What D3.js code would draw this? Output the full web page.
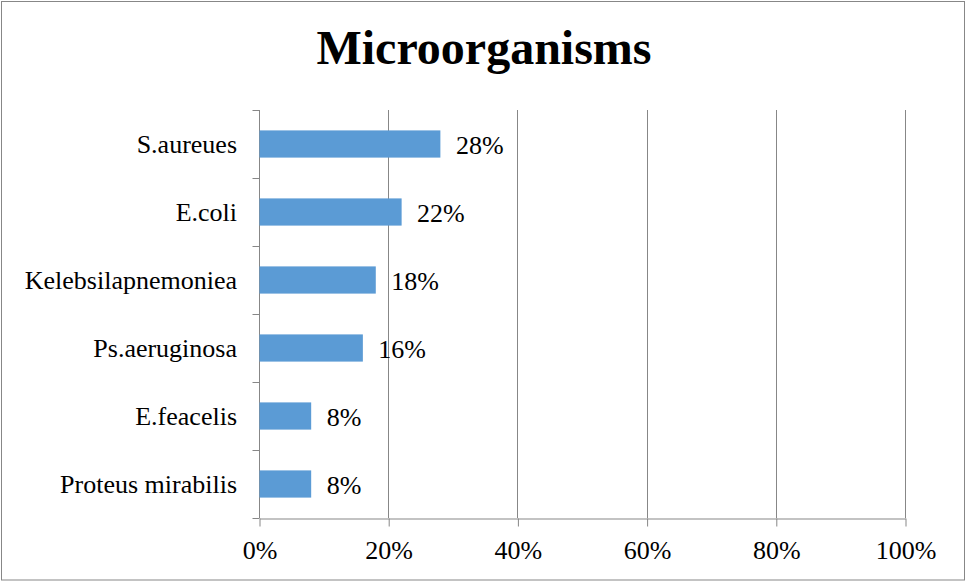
<!DOCTYPE html>
<html>
<head>
<meta charset="utf-8">
<script src="https://cdn.jsdelivr.net/npm/d3@7"></script>
<style>
  html, body { margin: 0; padding: 0; background: #fff; }
  svg { display: block; }
</style>
</head>
<body>
<svg id="chart" width="967" height="583"></svg>
<script>
// Organisms, top to bottom, with their share of isolates (%)
const organisms = ["S.aureues", "E.coli", "Kelebsilapnemoniea", "Ps.aeruginosa", "E.feacelis", "Proteus mirabilis"];
const shares = [28, 22, 18, 16, 8, 8];
const xTicks = [0, 20, 40, 60, 80, 100];

const svg = d3.select("#chart");
const W = 967, H = 583;
const plot = { left: 259, right: 905, top: 110, bottom: 518 };
const serif = "'Liberation Serif', 'Times New Roman', serif";
const gridColor = "#878787";
const labelSize = 26;

// Outer chart border
svg.append("rect")
  .attr("x", 1.5).attr("y", 1.5)
  .attr("width", W - 4).attr("height", H - 4.5)
  .attr("fill", "#fff")
  .attr("stroke", gridColor).attr("stroke-width", 1);

// Title
svg.append("text")
  .attr("x", 484).attr("y", 64)
  .attr("text-anchor", "middle")
  .attr("font-family", serif)
  .attr("font-weight", "bold")
  .attr("font-size", 48)
  .text("Microorganisms");

const x = d3.scaleLinear().domain([0, 100]).range([plot.left, plot.right]);
const y = d3.scaleBand().domain(organisms).range([plot.top, plot.bottom])
  .paddingInner(0.6).paddingOuter(0.3);

// Vertical gridlines
svg.append("g")
  .selectAll("line")
  .data(xTicks.filter(t => t > 0))
  .join("line")
  .attr("x1", d => Math.round(x(d)) + 0.5).attr("x2", d => Math.round(x(d)) + 0.5)
  .attr("y1", plot.top).attr("y2", plot.bottom)
  .attr("stroke", gridColor).attr("stroke-width", 1);

// Bottom axis
const xAxis = svg.append("g")
  .attr("transform", `translate(0.5,${plot.bottom + 0.5})`)
  .call(d3.axisBottom(x).tickValues(xTicks).tickFormat(d => d + "%").tickSize(8).tickSizeOuter(0));
xAxis.select(".domain").attr("stroke", gridColor);
xAxis.selectAll(".tick line").attr("stroke", gridColor);
xAxis.selectAll(".tick text")
  .attr("font-family", serif).attr("font-size", labelSize).attr("fill", "#000")
  .attr("y", 40).attr("dy", 0);

// Left axis with ticks at the category boundaries
const yAxisG = svg.append("g").attr("transform", `translate(${plot.left + 0.5},0)`);
yAxisG.append("line")
  .attr("x1", 0).attr("x2", 0).attr("y1", plot.top).attr("y2", plot.bottom)
  .attr("stroke", gridColor);
const step = y.step();
const boundaries = d3.range(organisms.length + 1).map(i => plot.top + i * step);
yAxisG.selectAll("line.tick")
  .data(boundaries)
  .join("line")
  .attr("class", "tick")
  .attr("x1", -7).attr("x2", 0)
  .attr("y1", d => Math.round(d) + 0.5).attr("y2", d => Math.round(d) + 0.5)
  .attr("stroke", gridColor);

// Category labels
svg.append("g")
  .selectAll("text")
  .data(organisms)
  .join("text")
  .attr("x", 237)
  .attr("y", d => y(d) + y.bandwidth() / 2 + 9)
  .attr("text-anchor", "end")
  .attr("font-family", serif).attr("font-size", labelSize)
  .text(d => d);

// Bars
svg.append("g")
  .selectAll("rect")
  .data(organisms)
  .join("rect")
  .attr("x", x(0) + 0.5)
  .attr("y", d => y(d))
  .attr("width", (d, i) => x(shares[i]) - x(0))
  .attr("height", y.bandwidth())
  .attr("fill", "#5B9BD5");

// Value labels
svg.append("g")
  .selectAll("text")
  .data(organisms)
  .join("text")
  .attr("x", (d, i) => x(shares[i]) + 16)
  .attr("y", d => y(d) + y.bandwidth() / 2 + 9.5)
  .attr("font-family", serif).attr("font-size", labelSize)
  .text((d, i) => shares[i] + "%");
</script>
</body>
</html>
